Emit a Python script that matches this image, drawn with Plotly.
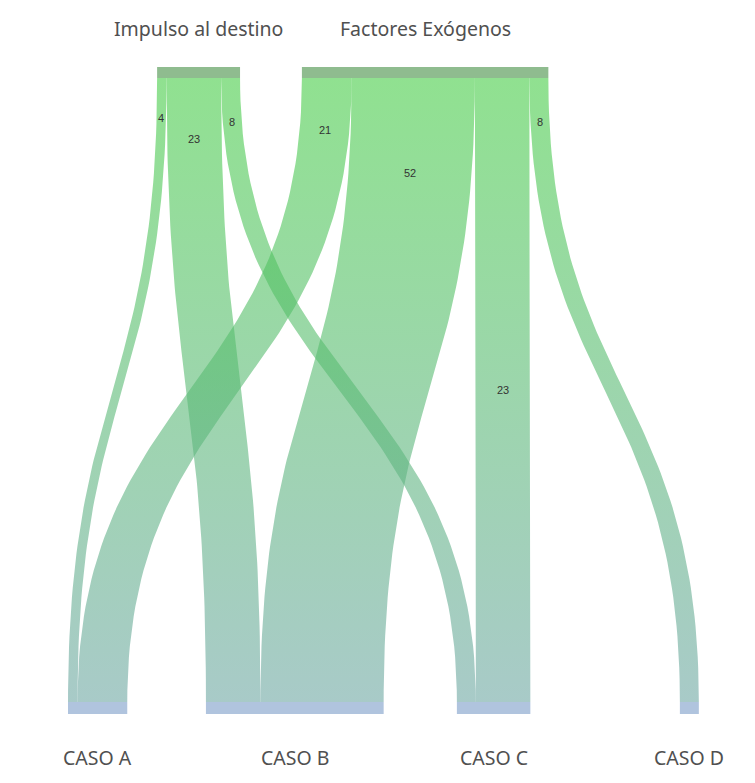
import numpy as np
import plotly.graph_objects as go

# ---- data ----
source_names = ["Impulso al destino", "Factores Exógenos"]
target_names = ["CASO A", "CASO B", "CASO C", "CASO D"]
link_source = [0, 0, 0, 1, 1, 1, 1]
link_target = [0, 1, 2, 0, 1, 2, 3]
link_value = [4, 23, 8, 21, 52, 23, 8]

# ---- layout parameters (node arrangement, in value units / axis units) ----
top_node_start = [37.6, 98.7]
bottom_node_start = [0.0, 58.2, 164.1, 258.2]
label_frac = [0.064, 0.098, 0.071, 0.083, 0.152, 0.5, 0.071]
X_RANGE = [-28.7, 289.9]
Y_RANGE = [0, 783]
TOP_NODE_Y = (705, 716)
BOT_NODE_Y = (69, 81)

TOP_NODE_COLOR = "#8fbc8f"
BOT_NODE_COLOR = "#b0c4de"
LINK_TOP = "rgba(70,205,70,0.6)"
LINK_BOT = "rgba(110,167,163,0.6)"

fig = go.Figure()

# node totals
src_tot = [sum(v for s, v in zip(link_source, link_value) if s == i) for i in range(len(source_names))]
tgt_tot = [sum(v for t, v in zip(link_target, link_value) if t == i) for i in range(len(target_names))]

# link offsets at sources (in link order)
src_off = list(top_node_start)
src_pos = []
for s, v in zip(link_source, link_value):
    src_pos.append(src_off[s])
    src_off[s] += v
# link offsets at targets (in source order)
order = sorted(range(len(link_value)), key=lambda i: (link_target[i], link_source[i]))
tgt_off = list(bottom_node_start)
tgt_pos = [0] * len(link_value)
for i in order:
    tgt_pos[i] = tgt_off[link_target[i]]
    tgt_off[link_target[i]] += link_value[i]

yt = TOP_NODE_Y[0]
yb = BOT_NODE_Y[1]
ym = (yt + yb) / 2
tt = np.linspace(0, 1, 80)


def bez(p0, p1, p2, p3, t):
    return (1 - t) ** 3 * p0 + 3 * t * (1 - t) ** 2 * p1 + 3 * t ** 2 * (1 - t) * p2 + t ** 3 * p3


annotations = []
for i, v in enumerate(link_value):
    sx0 = src_pos[i]
    tx0 = tgt_pos[i]
    sx1, tx1 = sx0 + v, tx0 + v
    lx = bez(sx0, sx0, tx0, tx0, tt)
    rx = bez(sx1, sx1, tx1, tx1, tt)
    yy = bez(yt, ym, ym, yb, tt)
    xs = np.concatenate([lx, rx[::-1], lx[:1]])
    ys = np.concatenate([yy, yy[::-1], yy[:1]])
    fig.add_trace(go.Scatter(
        x=xs, y=ys, mode="lines", fill="toself", line=dict(width=0, color="rgba(0,0,0,0)"),
        fillgradient=dict(type="vertical", colorscale=[[0, LINK_BOT], [1, LINK_TOP]], start=yb, stop=yt),
        hoverinfo="skip", showlegend=False))
    # label on center curve
    f = label_frac[i]
    ycurve = (yt - yy) / (yt - yb)
    ti = np.interp(f, ycurve, tt)
    cx = bez(sx0 + v / 2, sx0 + v / 2, tx0 + v / 2, tx0 + v / 2, ti)
    cy = bez(yt, ym, ym, yb, ti)
    annotations.append(dict(x=cx, y=cy, text=str(v), showarrow=False,
                            font=dict(size=11, color="#333", family="Liberation Sans")))

# nodes
for i, name in enumerate(source_names):
    x0 = top_node_start[i]
    x1 = x0 + src_tot[i]
    fig.add_trace(go.Scatter(x=[x0, x1, x1, x0, x0], y=[TOP_NODE_Y[0], TOP_NODE_Y[0], TOP_NODE_Y[1], TOP_NODE_Y[1], TOP_NODE_Y[0]],
                             mode="lines", fill="toself", fillcolor=TOP_NODE_COLOR, line=dict(width=0),
                             hoverinfo="skip", showlegend=False))
    annotations.append(dict(x=(x0 + x1) / 2, y=TOP_NODE_Y[1] + 39, text=name, showarrow=False,
                            font=dict(size=19.5, color="#505050", family="Noto Sans")))
for i, name in enumerate(target_names):
    x0 = bottom_node_start[i]
    x1 = x0 + tgt_tot[i]
    fig.add_trace(go.Scatter(x=[x0, x1, x1, x0, x0], y=[BOT_NODE_Y[0], BOT_NODE_Y[0], BOT_NODE_Y[1], BOT_NODE_Y[1], BOT_NODE_Y[0]],
                             mode="lines", fill="toself", fillcolor=BOT_NODE_COLOR, line=dict(width=0),
                             hoverinfo="skip", showlegend=False))
    annotations.append(dict(x=(x0 + x1) / 2, y=BOT_NODE_Y[0] - 43, text=name, showarrow=False,
                            font=dict(size=19.5, color="#505050", family="Noto Sans")))

fig.update_layout(
    width=755, height=783, margin=dict(l=0, r=0, t=0, b=0),
    paper_bgcolor="white", plot_bgcolor="white",
    xaxis=dict(range=X_RANGE, visible=False, fixedrange=True),
    yaxis=dict(range=Y_RANGE, visible=False, fixedrange=True),
    annotations=annotations,
)
fig.write_html("out.html")
